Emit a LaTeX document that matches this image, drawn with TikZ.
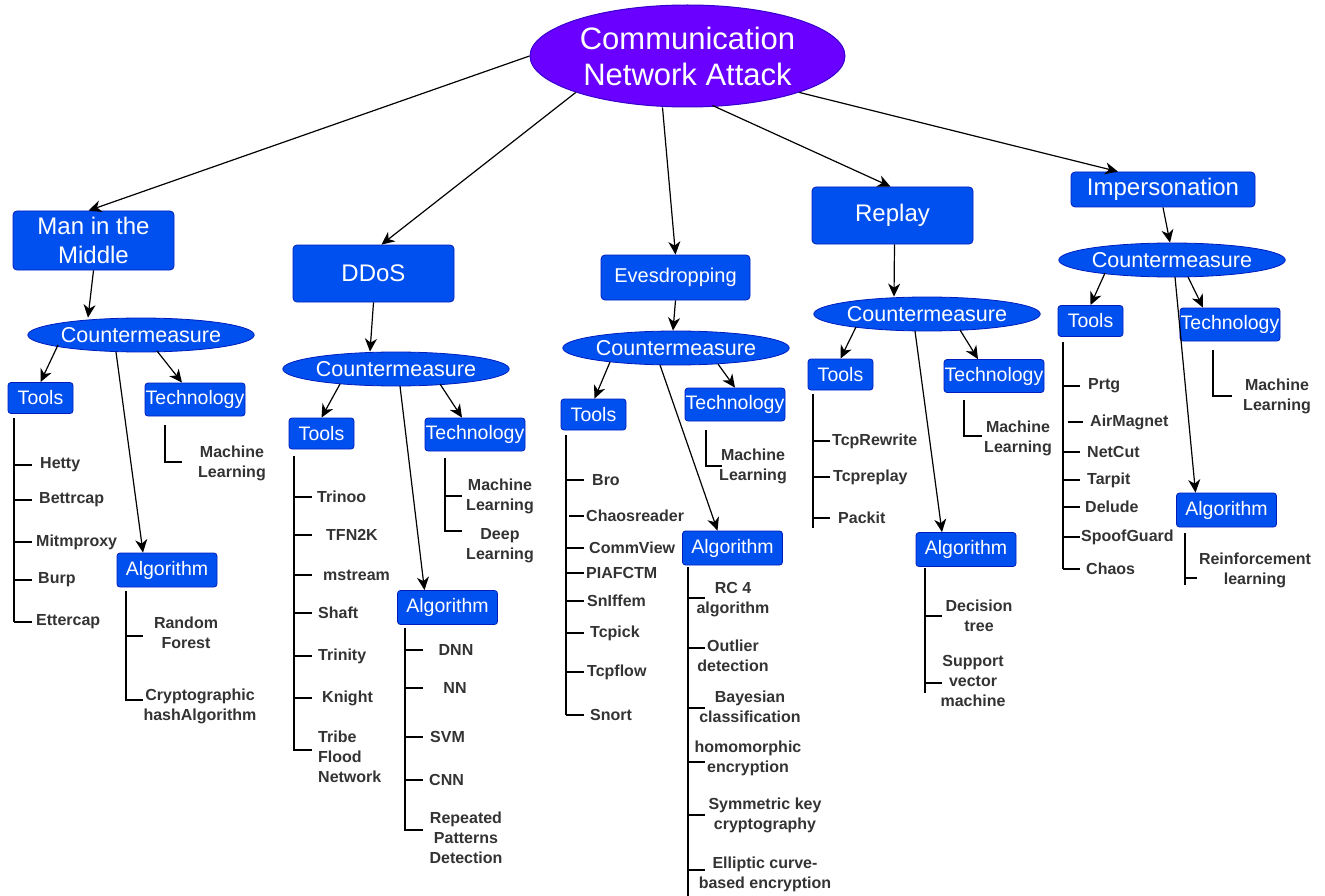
\documentclass[tikz,border=0pt]{standalone}
\usepackage{fontspec}
\setmainfont{Liberation Sans}
\usetikzlibrary{shapes.geometric,arrows.meta,calc}
\definecolor{topfill}{HTML}{6A00FF}
\definecolor{topdraw}{HTML}{3700CC}
\definecolor{bfill}{HTML}{0050EF}
\definecolor{bdraw}{HTML}{001DBC}
\definecolor{leafc}{HTML}{333333}
\begin{document}
\begin{tikzpicture}[x=1pt,y=-1pt,
  topnode/.style={ellipse, fill=topfill, draw=topdraw, line width=1pt, text=white, minimum width=315pt, minimum height=102pt, inner sep=0pt, align=center, font=\fontsize{31}{36}\selectfont},
  lonebox/.style={rectangle, rounded corners=4pt, fill=bfill, draw=bdraw, line width=0.8pt, text=white, align=center, inner sep=0pt, font=\fontsize{24}{29}\selectfont},
  cmnode/.style={ellipse, fill=bfill, draw=bdraw, line width=0.8pt, text=white, minimum width=220pt, minimum height=34pt, inner sep=0pt, font=\fontsize{21.5}{24}\selectfont},
  subbox/.style={rectangle, rounded corners=3pt, fill=bfill, draw=bdraw, line width=0.8pt, text=white, inner sep=0pt, font=\fontsize{19.5}{22}\selectfont},
  toolbox/.style={subbox, minimum width=65pt, minimum height=31pt},
  techbox/.style={subbox, minimum width=100pt, minimum height=33pt},
  algbox/.style={subbox, minimum width=100pt, minimum height=34pt},
  leaf/.style={text=leafc, inner sep=0pt, align=center, font=\bfseries\fontsize{16}{20}\selectfont},
  leafl/.style={leaf, anchor=west, align=left},
  arr/.style={-{Stealth[length=13pt,width=12pt,inset=4pt]}, line width=1.2pt},
  tline/.style={line width=1.2pt},
]
\useasboundingbox (0,0) rectangle (1325,896);

% ---------- top ----------
\node[topnode] (top) at (687.5,56) {Communication\\Network Attack};

% ---------- level 1 ----------
\node[lonebox, minimum width=161pt, minimum height=59pt] (mitm) at (93.5,240.5) {Man in the\\Middle};
\node[lonebox, minimum width=161pt, minimum height=57pt] (ddos) at (373.5,273.5) {DDoS};
\node[lonebox, minimum width=149pt, minimum height=45pt, font=\fontsize{20}{24}\selectfont] (eves) at (675.5,277.5) {Evesdropping};
\node[lonebox, minimum width=161pt, minimum height=57pt] (replay) at (892.5,215.5) {Replay};
\node[lonebox, minimum width=184pt, minimum height=35pt] (imp) at (1163,189.5) {Impersonation};

\draw[arr] (top.west) -- ($(mitm.north)+(-5,0)$);
\draw[arr] (top.south west) -- ($(ddos.north)+(8,0)$);
\draw[arr] ($(top.south)+(-25,0)$) -- (eves.north);
\draw[arr] ($(top.south)+(25,-2)$) -- ($(replay.north)+(-2,0)$);
\draw[arr] (top.south east) -- ($(imp.north)+(-45,0)$);

% ---------- countermeasures ----------
\node[cmnode] (cm1) at (141,335) {Countermeasure};
\node[cmnode] (cm2) at (396,369) {Countermeasure};
\node[cmnode] (cm3) at (676,348) {Countermeasure};
\node[cmnode] (cm4) at (927,314) {Countermeasure};
\node[cmnode] (cm5) at (1172,260) {Countermeasure};

\draw[arr] (mitm.south) -- ($(cm1.north)+(-53,0)$);
\draw[arr] (ddos.south) -- ($(cm2.north)+(-26,0)$);
\draw[arr] (eves.south) -- ($(cm3.north)+(-3,0)$);
\draw[arr] ($(replay.south)+(2,0)$) -- ($(cm4.north)+(-33,0)$);
\draw[arr] (imp.south) -- ($(cm5.north)+(-2,0)$);

% ---------- sub boxes ----------
\node[toolbox] (tools1) at (40.5,398) {Tools};
\node[techbox] (tech1) at (195,399.5) {Technology};
\node[algbox] (alg1) at (167,570) {Algorithm};

\node[toolbox] (tools2) at (321.5,433.5) {Tools};
\node[techbox] (tech2) at (475,434.5) {Technology};
\node[algbox] (alg2) at (447.5,607.5) {Algorithm};

\node[toolbox] (tools3) at (593.5,414.5) {Tools};
\node[techbox] (tech3) at (735,404.5) {Technology};
\node[algbox] (alg3) at (732.5,548) {Algorithm};

\node[toolbox] (tools4) at (840.5,374.5) {Tools};
\node[techbox] (tech4) at (994,376) {Technology};
\node[algbox] (alg4) at (966,549.5) {Algorithm};

\node[toolbox] (tools5) at (1090.5,321) {Tools};
\node[techbox] (tech5) at (1230,324.5) {Technology};
\node[algbox] (alg5) at (1226.5,510) {Algorithm};

\draw[arr] ($(cm1)+(-83,10)$) -- (tools1.north);
\draw[arr] ($(cm1)+(16,16)$) -- ($(tech1.north)+(-13,0)$);
\draw[arr] ($(cm1)+(-25,17)$) -- ($(alg1.north)+(-24,0)$);

\draw[arr] ($(cm2)+(-56,15)$) -- (tools2.north);
\draw[arr] ($(cm2)+(44,15)$) -- ($(tech2.north)+(-13,0)$);
\draw[arr] ($(cm2)+(4,17)$) -- ($(alg2.north)+(-23,0)$);

\draw[arr] ($(cm3)+(-66,14)$) -- ($(tools3.north)+(1,0)$);
\draw[arr] ($(cm3)+(42,16)$) -- (tech3.north);
\draw[arr] ($(cm3)+(-16,17)$) -- ($(alg3.north)+(-15,0)$);

\draw[arr] ($(cm4)+(-71,13)$) -- (tools4.north);
\draw[arr] ($(cm4)+(33,16)$) -- ($(tech4.north)+(-16,0)$);
\draw[arr] ($(cm4)+(-12,17)$) -- ($(alg4.north)+(-24,0)$);

\draw[arr] ($(cm5)+(-67,13)$) -- (tools5.north);
\draw[arr] ($(cm5)+(16,17)$) -- ($(tech5.north)+(-27,0)$);
\draw[arr] ($(cm5)+(3,17)$) -- ($(alg5.north)+(-31,0)$);

% ================= Man in the Middle leaves =================
\node[leafl] (hetty) at (40,465) {Hetty};
\node[leafl] (bettr) at (39,500) {Bettrcap};
\node[leafl] (mitmp) at (36,542) {Mitmproxy};
\node[leafl] (burp) at (38,580) {Burp};
\node[leafl] (etter) at (36,622) {Ettercap};
\coordinate (v1a) at (14,418);
\draw[tline] (v1a) -- (v1a |- etter);
\foreach \n in {hetty,bettr,mitmp,burp,etter} \draw[tline] (v1a |- \n) -- ++(18,0);

\node[leaf] (ml1) at (232,463) {Machine\\Learning};
\coordinate (t1a) at (165,425);
\draw[tline] (t1a) -- ($(t1a |- ml1)+(0,-1)$) -- ++(17,0);

\node[leaf] (rf1) at (186,633) {Random\\Forest};
\node[leaf] (ch1) at (200,706) {Cryptographic\\hashAlgorithm};
\coordinate (a1a) at (126,591);
\draw[tline] (a1a) -- ($(a1a |- ch1)+(0,-6)$) -- ++(17,0);
\draw[tline] ($(a1a |- rf1)+(0,3)$) -- ++(17,0);

% ================= DDoS leaves =================
\node[leafl] (trinoo) at (317,497) {Trinoo};
\node[leafl] (tfn) at (326,535) {TFN2K};
\node[leafl] (mstream) at (323,575) {mstream};
\node[leafl] (shaft) at (318,613) {Shaft};
\node[leafl] (trinity) at (318,656) {Trinity};
\node[leafl] (knight) at (322,698) {Knight};
\node[leafl] (tribe) at (318,757) {Tribe\\Flood\\Network};
\coordinate (v2a) at (294,456);
\draw[tline] (v2a) -- ($(v2a |- tribe)+(0,-7)$) -- ++(18,0);
\foreach \n in {trinoo,tfn,mstream,shaft,trinity,knight} \draw[tline] (v2a |- \n) -- ++(18,0);

\node[leaf] (ml2) at (500,496) {Machine\\Learning};
\node[leaf] (dl2) at (500,546) {Deep\\Learning};
\coordinate (t2a) at (445,458);
\draw[tline] (t2a) -- ($(t2a |- dl2)+(0,-15)$) -- ++(17,0);
\draw[tline] (t2a |- ml2) -- ++(17,0);

\node[leaf] (dnn) at (456,650) {DNN};
\node[leaf] (nn) at (455,688) {NN};
\node[leafl] (svm2) at (430,737) {SVM};
\node[leafl] (cnn) at (429,780) {CNN};
\node[leaf] (rpd) at (466,838) {Repeated\\Patterns\\Detection};
\coordinate (a2a) at (405,628);
\draw[tline] (a2a) -- ($(a2a |- rpd)+(0,-8)$) -- ++(18,0);
\foreach \n in {dnn,nn,svm2,cnn} \draw[tline] (a2a |- \n) -- ++(18,0);

% ================= Evesdropping leaves =================
\node[leafl] (bro) at (592,480) {Bro};
\node[leafl] (chaosr) at (586,516) {Chaosreader};
\node[leafl] (commv) at (589,548) {CommView};
\node[leafl] (piaf) at (586,573) {PIAFCTM};
\node[leafl] (sniff) at (587,601) {SnIffem};
\node[leafl] (tcpick) at (590,633) {Tcpick};
\node[leafl] (tcpflow) at (587,672) {Tcpflow};
\node[leafl] (snort) at (590,715) {Snort};
\coordinate (v3a) at (566,435);
\draw[tline] (v3a) -- (v3a |- snort);
\foreach \n in {bro,commv,piaf,sniff,tcpick,tcpflow,snort} \draw[tline] (v3a |- \n) -- ++(18,0);
\draw[tline] ($(v3a |- chaosr)+(3,0)$) -- ++(15,0);

\node[leaf] (ml3) at (753,466) {Machine\\Learning};
\coordinate (t3a) at (706,430);
\draw[tline] (t3a) -- (t3a |- ml3) -- ++(16,0);

\node[leaf] (rc4) at (733,600) {RC 4\\algorithm};
\node[leaf] (outl) at (733,656) {Outlier\\detection};
\node[leaf] (bayes) at (750,707) {Bayesian\\classification};
\node[leaf] (homo) at (748,758) {homomorphic\\encryption};
\node[leaf] (symk) at (765,815) {Symmetric key\\cryptography};
\node[leaf] (ellc) at (765,874) {Elliptic curve-\\based encryption};
\coordinate (a3a) at (688,567);
\coordinate (a3b) at (688,896);
\draw[tline] (a3a) -- (a3b);
\draw[tline] ($(a3a |- rc4)+(0,-2)$) -- ++(17,0);
\draw[tline] ($(a3a |- outl)+(0,-8)$) -- ++(17,0);
\draw[tline] ($(a3a |- bayes)+(0,1)$) -- ++(17,0);
\draw[tline] ($(a3a |- homo)+(0,4)$) -- ++(17,0);
\draw[tline] (a3a |- symk) -- ++(17,0);
\draw[tline] ($(a3a |- ellc)+(0,-4)$) -- ++(17,0);

% ================= Replay leaves =================
\node[leafl] (tcprw) at (832,441) {TcpRewrite};
\node[leafl] (tcprp) at (833,477) {Tcpreplay};
\node[leafl] (packit) at (838,518) {Packit};
\coordinate (v4a) at (813,394);
\draw[tline] (v4a) -- ($(v4a |- packit)+(0,10)$);
\foreach \n in {tcprw,tcprp,packit} \draw[tline] (v4a |- \n) -- ++(17,0);

\node[leaf] (ml4) at (1018,438) {Machine\\Learning};
\coordinate (t4a) at (964,400);
\draw[tline] (t4a) -- ($(t4a |- ml4)+(0,-2)$) -- ++(18,0);

\node[leaf] (dtree) at (979,616) {Decision\\tree};
\node[leaf] (svm4) at (973,681) {Support\\vector\\machine};
\coordinate (a4a) at (925,568);
\draw[tline] (a4a) -- ($(a4a |- svm4)+(0,12)$);
\draw[tline] (a4a |- dtree) -- ++(17,0);
\draw[tline] ($(a4a |- svm4)+(0,2)$) -- ++(17,0);

% ================= Impersonation leaves =================
\node[leafl] (prtg) at (1088,386) {Prtg};
\node[leafl] (airm) at (1090,422) {AirMagnet};
\node[leafl] (netcut) at (1087,452) {NetCut};
\node[leafl] (tarpit) at (1087,480) {Tarpit};
\node[leafl] (delude) at (1085,507) {Delude};
\node[leafl] (spoof) at (1081,537) {SpoofGuard};
\node[leafl] (chaosi) at (1086,569) {Chaos};
\coordinate (v5a) at (1063,342);
\draw[tline] (v5a) -- (v5a |- chaosi);
\foreach \n in {prtg,netcut,tarpit,delude,spoof,chaosi} \draw[tline] (v5a |- \n) -- ++(17,0);
\draw[tline] ($(v5a |- airm)+(5,0)$) -- ++(15,0);

\node[leaf] (ml5) at (1277,396) {Machine\\Learning};
\coordinate (t5a) at (1213,350);
\draw[tline] (t5a) -- (t5a |- ml5) -- ++(19,0);

\node[leaf] (reinf) at (1255,570) {Reinforcement\\learning};
\coordinate (a5a) at (1185,533);
\draw[tline] (a5a) -- ($(a5a |- reinf)+(0,15)$);
\draw[tline] ($(a5a |- reinf)+(0,8)$) -- ++(12,0);

\end{tikzpicture}
\end{document}
